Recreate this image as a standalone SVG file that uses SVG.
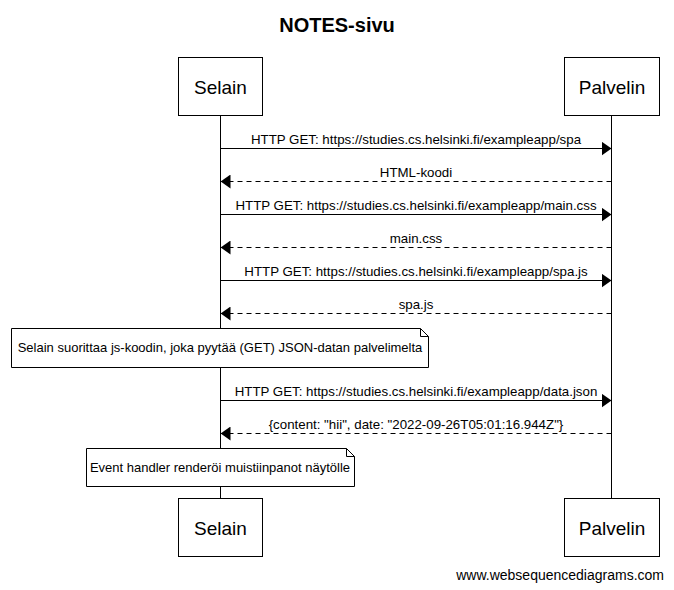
<svg xmlns="http://www.w3.org/2000/svg" width="674" height="590" viewBox="0 0 674 590">
<defs>
<style>
text{font-family:"Liberation Sans",Arial,sans-serif;fill:#000}
.title{font-size:20px;font-weight:bold;text-anchor:middle}
.part{font-size:19px;text-anchor:middle}
.lbl{font-size:13.3px;text-anchor:middle}
.note{font-size:13px;text-anchor:middle}
.foot{font-size:14px;text-anchor:end}
.box{fill:#fff;stroke:#000;stroke-width:1}
.life{stroke:#000;stroke-width:1}
.msg{stroke:#000;stroke-width:1;fill:none}
.ret{stroke:#000;stroke-width:1;fill:none;stroke-dasharray:5,4}
.nb{fill:#fff;stroke:#000;stroke-width:1}
</style>
<marker id="ah" viewBox="0 0 10 14" refX="10" refY="7" markerWidth="10" markerHeight="14" markerUnits="userSpaceOnUse" orient="auto">
<path d="M0,0 L10,7 L0,14 Z" fill="#000"/>
</marker>
</defs>
<rect width="674" height="590" fill="#fff"/>
<text class="title" x="337" y="32">NOTES-sivu</text>
<g id="lifelines">
<line class="life" x1="220.5" y1="115" x2="220.5" y2="498"/>
<line class="life" x1="611.5" y1="115" x2="611.5" y2="498"/>
</g>
<g id="selain-top"><rect class="box" x="178.5" y="57.5" width="84" height="58"/><text class="part" x="220.5" y="94">Selain</text></g>
<g id="palvelin-top"><rect class="box" x="564.5" y="57.5" width="95" height="58"/><text class="part" x="612" y="94">Palvelin</text></g>
<g id="connectors">
<line class="msg" x1="220.5" y1="148.5" x2="611.5" y2="148.5" marker-end="url(#ah)"/>
<text class="lbl" x="416" y="144">HTTP GET: https://studies.cs.helsinki.fi/exampleapp/spa</text>
<line class="ret" x1="611.5" y1="181.5" x2="220.5" y2="181.5" marker-end="url(#ah)"/>
<text class="lbl" x="416" y="177">HTML-koodi</text>
<line class="msg" x1="220.5" y1="214.5" x2="611.5" y2="214.5" marker-end="url(#ah)"/>
<text class="lbl" x="416" y="210">HTTP GET: https://studies.cs.helsinki.fi/exampleapp/main.css</text>
<line class="ret" x1="611.5" y1="247.5" x2="220.5" y2="247.5" marker-end="url(#ah)"/>
<text class="lbl" x="416" y="243">main.css</text>
<line class="msg" x1="220.5" y1="280.5" x2="611.5" y2="280.5" marker-end="url(#ah)"/>
<text class="lbl" x="416" y="276">HTTP GET: https://studies.cs.helsinki.fi/exampleapp/spa.js</text>
<line class="ret" x1="611.5" y1="313.5" x2="220.5" y2="313.5" marker-end="url(#ah)"/>
<text class="lbl" x="416" y="309">spa.js</text>
<line class="msg" x1="220.5" y1="400.5" x2="611.5" y2="400.5" marker-end="url(#ah)"/>
<text class="lbl" x="416" y="396">HTTP GET: https://studies.cs.helsinki.fi/exampleapp/data.json</text>
<line class="ret" x1="611.5" y1="433.5" x2="220.5" y2="433.5" marker-end="url(#ah)"/>
<text class="lbl" x="416" y="429">{content: "hii", date: "2022-09-26T05:01:16.944Z"}</text>
</g>
<g id="note1">
<path class="nb" d="M11.5,328.5 H420.5 L428.5,336.5 V367.5 H11.5 Z"/>
<path class="msg" d="M420.5,328.5 V336.5 H428.5"/>
<text class="note" x="220" y="352">Selain suorittaa js-koodin, joka pyytää (GET) JSON-datan palvelimelta</text>
</g>
<g id="note2">
<path class="nb" d="M86.5,448.5 H346.5 L354.5,456.5 V486.5 H86.5 Z"/>
<path class="msg" d="M346.5,448.5 V456.5 H354.5"/>
<text class="note" x="220" y="472">Event handler renderöi muistiinpanot näytölle</text>
</g>
<g id="selain-bottom"><rect class="box" x="178.5" y="498.5" width="84" height="58"/><text class="part" x="220.5" y="535">Selain</text></g>
<g id="palvelin-bottom"><rect class="box" x="564.5" y="498.5" width="95" height="58"/><text class="part" x="612" y="535">Palvelin</text></g>
<text class="foot" x="664" y="580">www.websequencediagrams.com</text>
</svg>
